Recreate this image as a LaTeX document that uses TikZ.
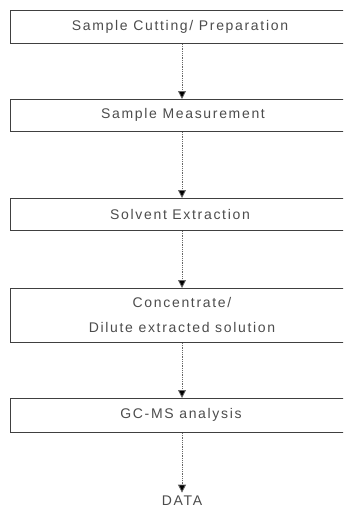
\documentclass[tikz,border=0pt]{standalone}
\usepackage{fontspec}
\setmainfont{Liberation Sans}
\newfontfamily\spacedfont[LetterSpace=12]{Liberation Sans}
\usetikzlibrary{arrows.meta}
\begin{document}
\begin{tikzpicture}[x=1pt,y=-1pt,
  stepbox/.style={draw=black!75, line width=1pt, minimum height=#1, minimum width=350pt, inner sep=0pt, anchor=north west},
  stepbox/.default=33pt,
  lbl/.style={font=\spacedfont\fontsize{14}{25}\selectfont, text=black!70},
  flow/.style={draw=black!60, line width=0.8pt, densely dotted, -{Triangle[length=8pt,width=8pt,fill=black]}}]
\useasboundingbox (0,0) rectangle (343,514);
\clip (0,0) rectangle (343,514);
\node[stepbox=33pt] (b1) at (10,10) {};
\node[stepbox=32pt] (b2) at (10,99) {};
\node[stepbox=32pt] (b3) at (10,198) {};
\node[stepbox=54pt] (b4) at (10,288) {};
\node[stepbox=34pt] (b5) at (10,398) {};
\node[lbl] (t1) at (180,27) {Sample Cutting/ Preparation};
\node[lbl] (t2) at (183,115) {Sample Measurement};
\node[lbl] (t3) at (180,214) {Solvent Extraction};
\node[lbl, align=center] (t4) at (182,315) {Concentrate/\\Dilute extracted solution};
\node[lbl] (t5) at (181,415) {GC-MS analysis};
\node[lbl] (data) at (182,501) {DATA};
\coordinate (x) at (182,0);
\draw[flow] (b1.south -| x) -- (b2.north -| x);
\draw[flow] (b2.south -| x) -- (b3.north -| x);
\draw[flow] (b3.south -| x) -- (b4.north -| x);
\draw[flow] (b4.south -| x) -- (b5.north -| x);
\draw[flow] (b5.south -| x) -- (data.north -| x);
\end{tikzpicture}
\end{document}
